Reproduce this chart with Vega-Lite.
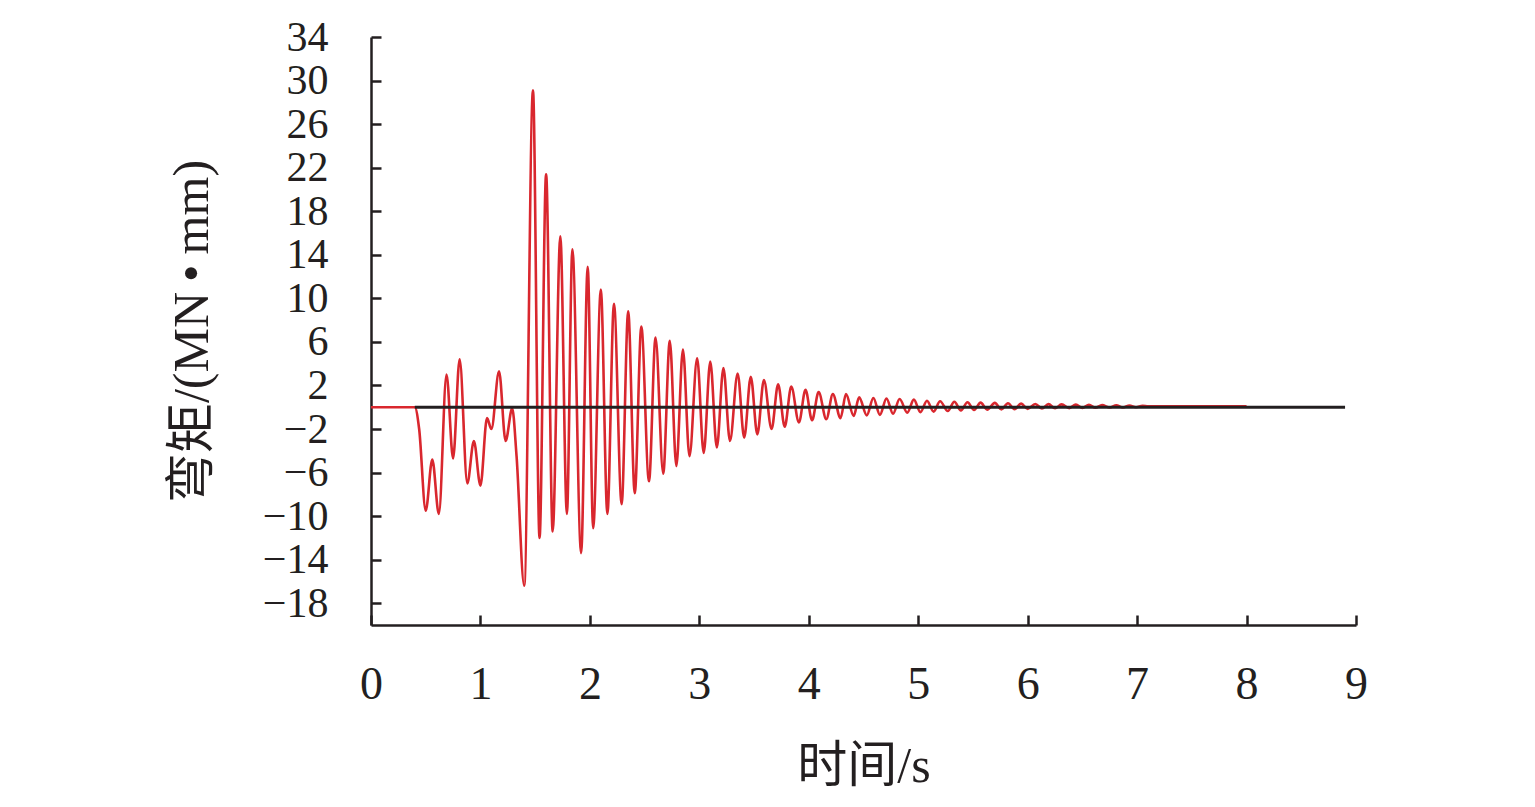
{
  "$schema": "https://vega.github.io/schema/vega-lite/v6.json",
  "width": 985,
  "height": 588,
  "autosize": {"type": "none"},
  "padding": {"left": 371, "top": 37, "right": 179, "bottom": 182},
  "background": "white",
  "config": {
    "view": {"stroke": null},
    "axis": {
      "grid": false,
      "domainColor": "#231f20",
      "domainWidth": 2.5,
      "tickColor": "#231f20",
      "tickWidth": 2.5,
      "tickSize": -10,
      "labelFont": "Liberation Serif",
      "labelColor": "#231f20",
      "labelOverlap": false,
      "labelBound": false,
      "labelFlush": false,
      "titleFont": "Liberation Serif, Noto Sans CJK SC",
      "titleFontSize": 50,
      "titleFontWeight": "normal",
      "titleColor": "#231f20"
    }
  },
  "encoding": {
    "x": {
      "field": "t", "type": "quantitative",
      "scale": {"domain": [0, 9], "nice": false, "zero": false},
      "axis": {"title": "时间/s", "values": [0,1,2,3,4,5,6,7,8,9], "format": "d", "labelFontSize": 46, "labelPadding": 47, "titlePadding": 34}
    },
    "y": {
      "field": "m", "type": "quantitative",
      "scale": {"domain": [-20, 34], "nice": false, "zero": false},
      "axis": {"title": "弯矩/(MN\u2009•\u2009mm)", "values": [-18,-14,-10,-6,-2,2,6,10,14,18,22,26,30,34], "format": "d", "labelFontSize": 42, "labelPadding": 53, "titlePadding": 45}
    }
  },
  "layer": [
    {
      "data": {"values": [
        {"t":0,"m":0},{"t":0.40,"m":0},{"t":0.44,"m":-2},{"t":0.50,"m":-9.5},{"t":0.56,"m":-4.8},{"t":0.62,"m":-9.8},{"t":0.69,"m":3.0},{"t":0.75,"m":-4.7},{"t":0.81,"m":4.4},{"t":0.88,"m":-7.0},{"t":0.94,"m":-3.1},{"t":1.00,"m":-7.2},{"t":1.06,"m":-1.0},{"t":1.10,"m":-2.0},{"t":1.17,"m":3.3},{"t":1.23,"m":-3.1},{"t":1.29,"m":-0.1},{"t":1.33,"m":-4.5},{"t":1.40,"m":-16.4},
        {"t":1.48,"m":29.1},{"t":1.54,"m":-12.0},{"t":1.60,"m":21.4},{"t":1.66,"m":-11.4},{"t":1.73,"m":15.7},{"t":1.79,"m":-9.8},{"t":1.84,"m":14.5},{"t":1.92,"m":-13.4},{"t":1.98,"m":12.9},{"t":2.03,"m":-11.1},{"t":2.10,"m":10.8},{"t":2.16,"m":-9.8},{"t":2.22,"m":9.5},{"t":2.29,"m":-8.9},{"t":2.35,"m":8.8},{"t":2.41,"m":-7.9},{"t":2.47,"m":7.4},{"t":2.54,"m":-6.8},{"t":2.60,"m":6.4},{"t":2.67,"m":-6.1},{"t":2.73,"m":6.1},{"t":2.79,"m":-5.4},{"t":2.85,"m":5.3},{"t":2.91,"m":-4.5},{"t":2.98,"m":4.5},{"t":3.04,"m":-4.2},{"t":3.10,"m":4.2},{"t":3.16,"m":-3.7},{"t":3.22,"m":3.6},{"t":3.28,"m":-3.1},{"t":3.35,"m":3.1},{"t":3.41,"m":-2.8},{"t":3.47,"m":2.8},{"t":3.53,"m":-2.5},{"t":3.59,"m":2.5},{"t":3.66,"m":-2.0},{"t":3.72,"m":2.1},{"t":3.78,"m":-1.8},{"t":3.84,"m":1.9},{"t":3.91,"m":-1.4},{"t":3.97,"m":1.6},{"t":4.03,"m":-1.2},{"t":4.09,"m":1.4},{"t":4.16,"m":-1.1},{"t":4.22,"m":1.2},{"t":4.29,"m":-1.0},{"t":4.34,"m":1.2},{"t":4.41,"m":-0.8},{"t":4.46,"m":0.9},
        {"t":4.53,"m":-0.75},{"t":4.59,"m":0.85},{"t":4.65,"m":-0.7},{"t":4.71,"m":0.8},{"t":4.77,"m":-0.6},{"t":4.83,"m":0.75},{"t":4.90,"m":-0.5},{"t":4.96,"m":0.7},{"t":5.02,"m":-0.45},{"t":5.08,"m":0.6},{"t":5.14,"m":-0.4},{"t":5.20,"m":0.55},{"t":5.27,"m":-0.35},{"t":5.33,"m":0.5},{"t":5.39,"m":-0.3},{"t":5.45,"m":0.45},{"t":5.51,"m":-0.25},{"t":5.57,"m":0.42},{"t":5.63,"m":-0.22},{"t":5.70,"m":0.4},{"t":5.76,"m":-0.2},{"t":5.82,"m":0.36},{"t":5.88,"m":-0.18},{"t":5.94,"m":0.33},{"t":6.00,"m":-0.15},{"t":6.07,"m":0.3},{"t":6.13,"m":-0.12},{"t":6.19,"m":0.28},{"t":6.25,"m":-0.1},{"t":6.31,"m":0.26},{"t":6.38,"m":-0.08},{"t":6.44,"m":0.24},{"t":6.50,"m":-0.06},{"t":6.56,"m":0.22},{"t":6.62,"m":-0.05},{"t":6.68,"m":0.2},{"t":6.75,"m":-0.03},{"t":6.81,"m":0.18},{"t":6.87,"m":-0.02},{"t":6.93,"m":0.16},{"t":6.99,"m":0.0},{"t":7.05,"m":0.14},{"t":7.10,"m":0.08},{"t":8.0,"m":0.08}
      ]},
      "mark": {"type": "line", "color": "#d9272e", "strokeWidth": 2.6, "interpolate": "monotone", "strokeJoin": "round"}
    },
    {
      "data": {"values": [{"t":0.40,"m":0},{"t":8.9,"m":0}]},
      "mark": {"type": "line", "color": "#231f20", "strokeWidth": 3}
    }
  ]
}
